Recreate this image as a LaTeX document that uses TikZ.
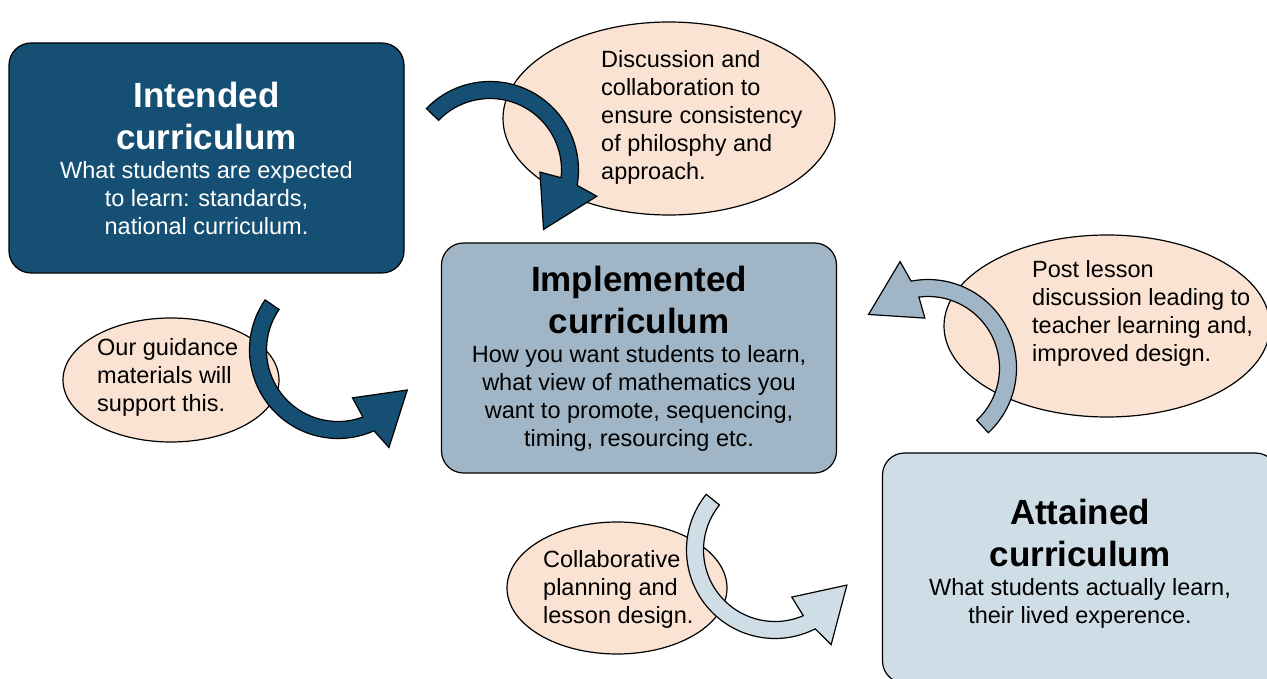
\documentclass[tikz,border=0pt]{standalone}
\usepackage{fontspec}
\setmainfont{Liberation Sans}
\usetikzlibrary{shapes.geometric,positioning}
\definecolor{darkblue}{RGB}{21,79,115}
\definecolor{midblue}{RGB}{160,182,198}
\definecolor{paleblue}{RGB}{206,221,230}
\definecolor{peach}{RGB}{250,227,210}
% curved block arrow: fill, centre, start angle, end angle, tip offset
\newcommand{\bentarrow}[5]{%
  \filldraw[band, fill=#1, shift={#2}]
    (#3:88.5) arc[start angle=#3, end angle=#4, radius=88.5]
    -- ({#4+0.1*(#5)}:110) -- ({#4+(#5)}:80) -- ({#4-0.2*(#5)}:50) -- ({#4-0.1*(#5)}:71.5)
    arc[start angle={#4-0.1*(#5)}, end angle=#3, radius=71.5] -- cycle;}

\begin{document}
\begin{tikzpicture}[x=1pt,y=1pt,
    box/.style={draw, line width=1.2pt, rounded corners=22pt, minimum width=395pt, minimum height=230pt},
    boxtitle/.style={inner sep=0pt, align=center, font=\fontsize{35}{42}\selectfont\bfseries},
    boxtext/.style={inner sep=0pt, align=center, font=\fontsize{23.5}{28}\selectfont},
    bubble/.style={ellipse, draw, line width=1.2pt, fill=peach},
    bubtext/.style={inner sep=0pt, align=left, anchor=north west, font=\fontsize{23.5}{28}\selectfont},
    band/.style={draw, line width=1.2pt, line join=miter}]
  \useasboundingbox (0,0) rectangle (1267,678);

  % bubbles
  \node[bubble, minimum width=332pt, minimum height=193pt] (discuss) at (669,559.5) {};
  \node[bubtext] (discussT) at (601,628) {Discussion and\\collaboration to\\ensure consistency\\of philosphy and\\approach.};
  \node[bubble, minimum width=216pt, minimum height=124pt] (guide) at (171,298) {};
  \node[bubtext] (guideT) at (97,340) {Our guidance\\materials will\\support this.};
  \node[bubble, minimum width=326pt, minimum height=182pt] (post) at (1107,352) {};
  \node[bubtext] (postT) at (1032,418) {Post lesson\\discussion leading to\\teacher learning and,\\improved design.};
  \node[bubble, minimum width=220pt, minimum height=132pt] (plan) at (617,90) {};
  \node[bubtext] (planT) at (543,128) {Collaborative\\planning and\\lesson design.};

  % curriculum boxes
  \node[box, fill=darkblue] (intended) at (206.5,520) {};
  \node[boxtitle, text=white, anchor=north] (intendedT) at ([yshift=-39.5pt]intended.north) {Intended\\curriculum};
  \node[boxtext, text=white, below=11pt of intendedT] (intendedB) {What students are expected\\to learn: standards,\\national curriculum.};

  \node[box, fill=midblue] (implemented) at (639,320) {};
  \node[boxtitle, anchor=north] (implementedT) at ([yshift=-24pt]implemented.north) {Implemented\\curriculum};
  \node[boxtext, below=11pt of implementedT] (implementedB) {How you want students to learn,\\what view of mathematics you\\want to promote, sequencing,\\timing, resourcing etc.};

  \node[box, fill=paleblue] (attained) at (1080,110) {};
  \node[boxtitle, anchor=north] (attainedT) at ([yshift=-47pt]attained.north) {Attained\\curriculum};
  \node[boxtext, below=11pt of attainedT] (attainedB) {What students actually learn,\\their lived experence.};

  % curved arrows
  \bentarrow{darkblue}{(490,508)}{136}{-10}{-38}
  \bentarrow{darkblue}{(338,328)}{145.5}{294}{36}
  \bentarrow{midblue}{(928,310)}{-47}{101}{37}
  \bentarrow{paleblue}{(775,128)}{141}{297}{37}
\end{tikzpicture}
\end{document}
